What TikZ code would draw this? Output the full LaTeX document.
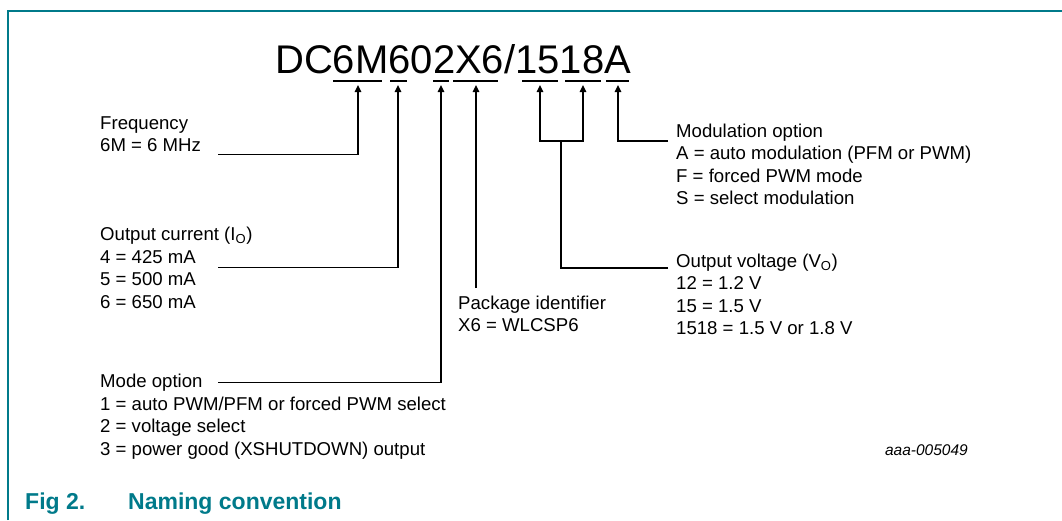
\documentclass[tikz,border=0pt]{standalone}
\usepackage{fontspec}
\setmainfont{Liberation Sans}
\usetikzlibrary{arrows.meta}
\definecolor{nxpteal}{RGB}{0,122,138}
\begin{document}
\begin{tikzpicture}[x=1pt,y=-1pt,
  txt/.style={anchor=base west,inner sep=0pt,font=\fontsize{18.6}{22.6}\selectfont},
  conn/.style={line width=1.4pt,black},
  arr/.style={conn,-{Triangle[length=7pt,width=6.5pt]}},
  uline/.style={line width=1.4pt,black}]
\useasboundingbox (0,0) rectangle (1062,520);
% frame
\draw[nxpteal,line width=2pt] (8,520) -- (8,10.5) -- (1062,10.5);
% title
\node[anchor=base west,inner sep=0pt,font=\fontsize{40}{48}\selectfont] (title) at (275,73) {DC6M602X6/1518A};
% underlines
\draw[uline] (333,81) -- (382,81);
\draw[uline] (390,81) -- (407,81);
\draw[uline] (433,81) -- (449,81);
\draw[uline] (453,81) -- (498,81);
\draw[uline] (522,81) -- (558,81);
\draw[uline] (565,81) -- (601,81);
\draw[uline] (606,81) -- (629,81);
% arrow tips
\coordinate (tF) at (358,85);
\coordinate (tI) at (398,85);
\coordinate (tM) at (441,85);
\coordinate (tP) at (476,85);
\coordinate (tV1) at (540,85);
\coordinate (tV2) at (583,85);
\coordinate (tA) at (618,85);
% labels
\node[txt] (freq) at (100,129) {\begin{tabular}[t]{@{}l@{}}Frequency\\6M = 6 MHz\end{tabular}};
\node[txt] (cur) at (100,240.5) {\begin{tabular}[t]{@{}l@{}}Output current (I\textsubscript{O})\\4 = 425 mA\\5 = 500 mA\\6 = 650 mA\end{tabular}};
\node[txt] (mode) at (100,387.5) {\begin{tabular}[t]{@{}l@{}}Mode option\\1 = auto PWM/PFM or forced PWM select\\2 = voltage select\\3 = power good (XSHUTDOWN) output\end{tabular}};
\node[txt] (pkg) at (458,309) {\begin{tabular}[t]{@{}l@{}}Package identifier\\X6 = WLCSP6\end{tabular}};
\node[txt] (mod) at (676,137) {\begin{tabular}[t]{@{}l@{}}Modulation option\\A = auto modulation (PFM or PWM)\\F = forced PWM mode\\S = select modulation\end{tabular}};
\node[txt] (vout) at (676,267) {\begin{tabular}[t]{@{}l@{}}Output voltage (V\textsubscript{O})\\12 = 1.2 V\\15 = 1.5 V\\1518 = 1.5 V or 1.8 V\end{tabular}};
% connector start points
\coordinate (sF) at (218,154.5);
\coordinate (sI) at (218,267.5);
\coordinate (sM) at (218,382.5);
\coordinate (sP) at (476,288);
\coordinate (sA) at (668,141);
\coordinate (sV) at (668,268);
\coordinate (jV) at (561,141);
% connectors
\draw[arr] (sF) -| (tF);
\draw[arr] (sI) -| (tI);
\draw[arr] (sM) -| (tM);
\draw[arr] (sP) -- (tP);
\draw[arr] (sA) -| (tA);
\draw[conn] (sV) -| (jV);
\draw[arr] (jV) -| (tV1);
\draw[arr] (jV) -| (tV2);
% reference code
\node[anchor=base east,inner sep=0pt,font=\fontsize{15.5}{18}\selectfont\itshape] (code) at (968,455) {aaa-005049};
% caption
\node[anchor=base west,inner sep=0pt,font=\fontsize{23}{27}\selectfont\bfseries,text=nxpteal] (fig) at (25,509) {Fig 2.};
\node[anchor=base west,inner sep=0pt,font=\fontsize{23}{27}\selectfont\bfseries,text=nxpteal] (cap) at (128,509) {Naming convention};
\end{tikzpicture}
\end{document}
